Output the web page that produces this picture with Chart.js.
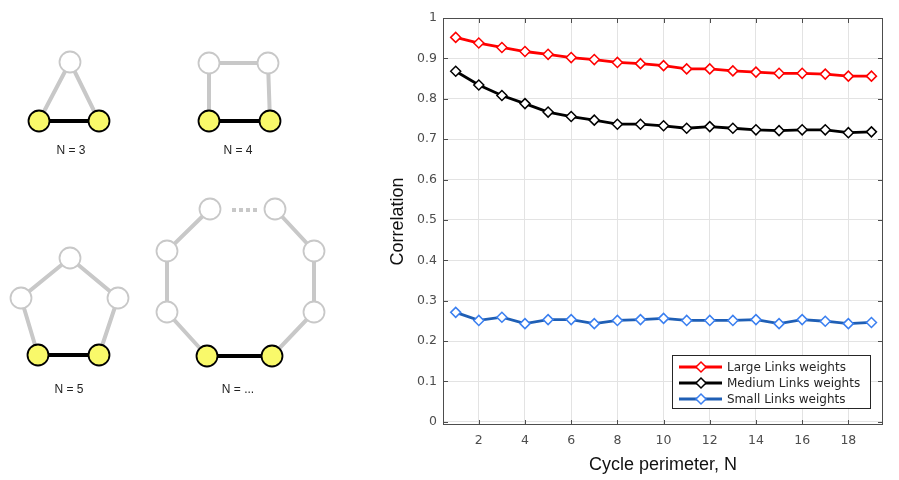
<!DOCTYPE html>
<html>
<head>
<meta charset="utf-8">
<script src="https://cdn.jsdelivr.net/npm/chart.js@4.4.1/dist/chart.umd.min.js"></script>
<style>
  html, body { margin: 0; padding: 0; background: #fff; }
  #wrap { position: relative; width: 899px; height: 480px; overflow: hidden; }
  #graphs { position: absolute; left: 0; top: 0; width: 370px; height: 480px; }
  #corr { position: absolute; left: 380px; top: 0; width: 519px; height: 480px; }
</style>
</head>
<body>
<div id="wrap">
  <div id="graphs"><canvas id="graphCanvas"></canvas></div>
  <div id="corr"><canvas id="corrCanvas"></canvas></div>
</div>
<script>
// Correlation chart data
const perimeter = [1, 2, 3, 4, 5, 6, 7, 8, 9, 10, 11, 12, 13, 14, 15, 16, 17, 18, 19];
const largeWeights = [0.952, 0.938, 0.927, 0.917, 0.910, 0.902, 0.897, 0.890, 0.887, 0.882,
                      0.874, 0.874, 0.869, 0.866, 0.863, 0.863, 0.861, 0.856, 0.856];
const mediumWeights = [0.868, 0.834, 0.808, 0.788, 0.767, 0.756, 0.747, 0.737, 0.737, 0.733,
                       0.727, 0.731, 0.727, 0.723, 0.721, 0.723, 0.723, 0.716, 0.718];
const smallWeights = [0.271, 0.251, 0.259, 0.243, 0.253, 0.253, 0.243, 0.251, 0.253, 0.256,
                      0.251, 0.251, 0.251, 0.253, 0.243, 0.253, 0.249, 0.243, 0.246];
const seriesNames = ['Large Links weights', 'Medium Links weights', 'Small Links weights'];
const xTicks = [2, 4, 6, 8, 10, 12, 14, 16, 18];
const yTicks = [0, 0.1, 0.2, 0.3, 0.4, 0.5, 0.6, 0.7, 0.8, 0.9, 1];

// Cycle diagrams (node centres in diagram units)
const cycleLabels = ['N = 3', 'N = 4', 'N = 5', 'N = ...'];
const labelPos = [[71, 151], [238, 151], [69, 390], [238, 390]];
const cycle3 = [[39, 121], [70, 62], [99, 121]];
const cycle4 = [[209, 121], [209, 63], [268, 63], [270, 121]];
const cycle5 = [[38, 355], [21, 298], [70, 258], [118, 298], [99, 355]];
const cycleNLeft = [[207, 356], [167, 312], [167, 251], [210, 209]];
const cycleNRight = [[275, 209], [314, 251], [314, 312], [272, 356]];
const dottedGap = [[232, 210], [258, 210]];

function pts(arr) {
    return arr.map(p => ({x: p[0], y: p[1]}));
}

function edgeSet(arr, color, width) {
    return {type: 'line', data: pts(arr), borderColor: color, borderWidth: width,
            pointRadius: 0, showLine: true, fill: false, order: 2};
}

function nodeSet(arr, fill, edge) {
    return {type: 'scatter', data: pts(arr), backgroundColor: fill, borderColor: edge,
            borderWidth: 1.8, pointRadius: 10.5, pointStyle: 'circle', order: 1};
}

const grey = '#c8c8c8';
const yellow = '#f9f96a';

const graphDatasets = [
    edgeSet(cycle3, grey, 4),
    edgeSet(cycle4, grey, 4),
    edgeSet(cycle5, grey, 4),
    edgeSet(cycleNLeft, grey, 4),
    edgeSet(cycleNRight, grey, 4),
    Object.assign(edgeSet(dottedGap, grey, 4), {borderDash: [4, 3]}),
    edgeSet([cycle3[0], cycle3[2]], '#000', 4),
    edgeSet([cycle4[0], cycle4[3]], '#000', 4),
    edgeSet([cycle5[0], cycle5[4]], '#000', 4),
    edgeSet([cycleNLeft[0], cycleNRight[3]], '#000', 4),
    nodeSet([cycle3[1]], '#fff', grey),
    nodeSet(cycle4.slice(1, 3), '#fff', grey),
    nodeSet(cycle5.slice(1, 4), '#fff', grey),
    nodeSet(cycleNLeft.slice(1).concat(cycleNRight.slice(0, 3)), '#fff', grey),
    nodeSet([cycle3[0], cycle3[2], cycle4[0], cycle4[3], cycle5[0], cycle5[4],
             cycleNLeft[0], cycleNRight[3]], yellow, '#000')
];

const cycleLabelPlugin = {
    id: 'cycleLabels',
    afterDatasetsDraw(chart) {
        const ctx = chart.ctx;
        const xs = chart.scales.x, ys = chart.scales.y;
        ctx.save();
        ctx.font = '12px "Liberation Sans", Arial, sans-serif';
        ctx.fillStyle = '#222';
        ctx.textAlign = 'center';
        ctx.textBaseline = 'middle';
        for (let i = 0; i < cycleLabels.length; i++) {
            ctx.fillText(cycleLabels[i], xs.getPixelForValue(labelPos[i][0]), ys.getPixelForValue(labelPos[i][1]));
        }
        ctx.restore();
    }
};

new Chart(document.getElementById('graphCanvas'), {
    type: 'scatter',
    data: {datasets: graphDatasets},
    options: {
        responsive: true,
        maintainAspectRatio: false,
        animation: false,
        layout: {padding: 0, autoPadding: false},
        plugins: {legend: {display: false}, tooltip: {enabled: false}},
        scales: {
            x: {type: 'linear', min: 0, max: 370, display: false},
            y: {type: 'linear', min: 0, max: 480, reverse: true, display: false}
        }
    },
    plugins: [cycleLabelPlugin]
});

// Correlation chart
const colors = [
    {line: '#ff0000', mark: '#ff0000'},
    {line: '#000000', mark: '#000000'},
    {line: '#1f5fb5', mark: '#3a7ff0'}
];
const values = [largeWeights, mediumWeights, smallWeights];

const corrDatasets = values.map((vals, i) => ({
    label: seriesNames[i],
    data: perimeter.map((n, j) => ({x: n, y: vals[j]})),
    borderColor: colors[i].line,
    borderWidth: 2.8,
    pointStyle: 'rectRot',
    pointRadius: 5,
    pointBorderWidth: 1.5,
    pointBorderColor: colors[i].mark,
    pointBackgroundColor: '#fff',
    showLine: true,
    fill: false,
    tension: 0
}));

const frameFont = '"DejaVu Sans", sans-serif';

const framePlugin = {
    id: 'frame',
    afterDatasetsDraw(chart) {
        const ctx = chart.ctx;
        const a = chart.chartArea;
        const xs = chart.scales.x, ys = chart.scales.y;
        ctx.save();
        // box and inward ticks
        ctx.strokeStyle = '#4d4d4d';
        ctx.lineWidth = 1;
        ctx.strokeRect(a.left + 0.5, a.top + 0.5, a.right - a.left - 1, a.bottom - a.top - 1);
        ctx.beginPath();
        xTicks.forEach(v => {
            const px = Math.round(xs.getPixelForValue(v)) + 0.5;
            ctx.moveTo(px, a.bottom); ctx.lineTo(px, a.bottom - 5);
            ctx.moveTo(px, a.top); ctx.lineTo(px, a.top + 5);
        });
        yTicks.forEach(v => {
            const py = Math.round(ys.getPixelForValue(v)) + 0.5;
            ctx.moveTo(a.left, py); ctx.lineTo(a.left + 5, py);
            ctx.moveTo(a.right, py); ctx.lineTo(a.right - 5, py);
        });
        ctx.stroke();

        // legend box inside the plot, bottom right
        const w = 199, h = 54;
        const bx = a.right - 12 - w, by = a.bottom - 16 - h;
        ctx.fillStyle = '#fff';
        ctx.fillRect(bx, by, w, h);
        ctx.strokeStyle = '#262626';
        ctx.strokeRect(bx + 0.5, by + 0.5, w - 1, h - 1);
        ctx.font = '12px ' + frameFont;
        ctx.textBaseline = 'middle';
        ctx.textAlign = 'left';
        seriesNames.forEach((name, i) => {
            const ly = by + 12 + i * 16;
            ctx.strokeStyle = colors[i].line;
            ctx.lineWidth = 2.8;
            ctx.beginPath();
            ctx.moveTo(bx + 7, ly); ctx.lineTo(bx + 50, ly);
            ctx.stroke();
            ctx.fillStyle = '#fff';
            ctx.strokeStyle = colors[i].mark;
            ctx.lineWidth = 1.5;
            ctx.beginPath();
            ctx.moveTo(bx + 29 - 5, ly); ctx.lineTo(bx + 29, ly - 5);
            ctx.lineTo(bx + 29 + 5, ly); ctx.lineTo(bx + 29, ly + 5);
            ctx.closePath();
            ctx.fill(); ctx.stroke();
            ctx.fillStyle = '#262626';
            ctx.fillText(name, bx + 55, ly + 1);
        });
        ctx.restore();
    }
};

new Chart(document.getElementById('corrCanvas'), {
    type: 'scatter',
    data: {datasets: corrDatasets},
    options: {
        responsive: true,
        maintainAspectRatio: false,
        animation: false,
        layout: {padding: {left: 0, right: 16, top: 18, bottom: 0}, autoPadding: false},
        plugins: {legend: {display: false}, tooltip: {enabled: false}},
        scales: {
            x: {
                type: 'linear', min: 0.45, max: 19.5,
                afterBuildTicks: s => { s.ticks = xTicks.map(v => ({value: v})); },
                afterFit: s => { s.height = 55; },
                grid: {color: '#e3e3e3', drawTicks: false},
                border: {display: false},
                ticks: {color: '#4d4d4d', padding: 8, font: {family: frameFont, size: 12.5},
                        maxRotation: 0, callback: v => String(v)},
                title: {display: true, text: 'Cycle perimeter, N', color: '#111',
                        font: {family: '"Liberation Sans", Arial, sans-serif', size: 18},
                        padding: {top: 4}}
            },
            y: {
                type: 'linear', min: -0.008, max: 1,
                afterBuildTicks: s => { s.ticks = yTicks.map(v => ({value: v})); },
                afterFit: s => { s.width = 63; },
                grid: {color: '#e3e3e3', drawTicks: false},
                border: {display: false},
                ticks: {color: '#4d4d4d', padding: 6, font: {family: frameFont, size: 12.5},
                        callback: v => String(v)},
                title: {display: true, text: 'Correlation', color: '#111',
                        font: {family: '"Liberation Sans", Arial, sans-serif', size: 18},
                        padding: {top: 7, bottom: 0}}
            }
        }
    },
    plugins: [framePlugin]
});
</script>
</body>
</html>
